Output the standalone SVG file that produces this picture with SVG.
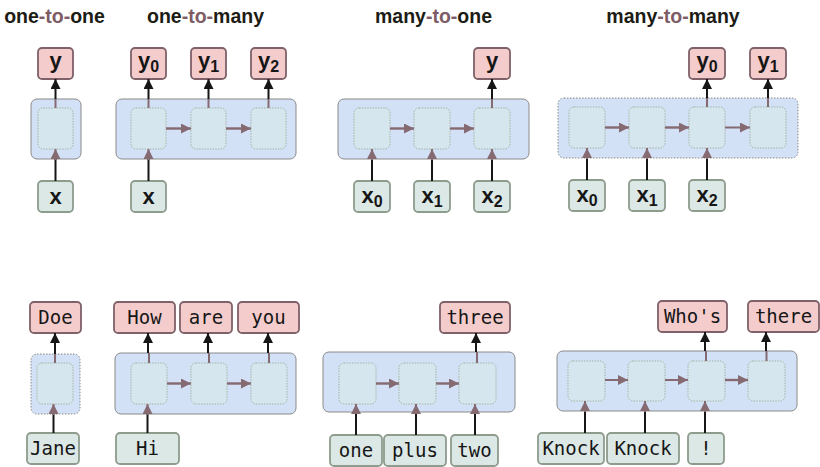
<svg xmlns="http://www.w3.org/2000/svg" width="820" height="467" viewBox="0 0 820 467">
<defs>
<style>
.title{font-family:"Liberation Sans",Arial,sans-serif;font-weight:bold;font-size:19.5px;fill:#1c1c14;text-anchor:middle}
.to{fill:#7e5c66}
.out{fill:#f5cccc;stroke:#7f6169;stroke-width:1.8}
.in{fill:#dce8e6;stroke:#8d9c8d;stroke-width:1.8}
.outer{fill:#d3e1f6;stroke:#8a8a8a;stroke-width:1}
.outerd{fill:#d3e1f6;stroke:#8a8a8a;stroke-width:1;stroke-dasharray:1.5 1.5}
.cell{fill:#d6e6ee;stroke:#a3b5a3;stroke-width:1;stroke-dasharray:1.5 1.2}
.sym{font-family:"Liberation Sans",Arial,sans-serif;font-weight:bold;font-size:22px;fill:#161616;text-anchor:middle}
.sub{font-size:16px}
.word{font-family:"DejaVu Sans Mono","Liberation Mono",monospace;font-size:19px;fill:#161616;text-anchor:middle}
.blk{stroke:#161616;stroke-width:2;fill:none}
.mv{stroke:#856a72;stroke-width:2;fill:none}
.mvh{stroke:#856a72;stroke-width:2.4;fill:none}
</style>
<marker id="ab" viewBox="0 0 10 10" refX="10" refY="5" markerWidth="11" markerHeight="10" markerUnits="userSpaceOnUse" orient="auto"><path d="M0,0 L10,5 L0,10 z" fill="#161616"/></marker>
<marker id="am" viewBox="0 0 10 10" refX="10" refY="5" markerWidth="10" markerHeight="10" markerUnits="userSpaceOnUse" orient="auto"><path d="M0,0 L10,5 L0,10 z" fill="#856a72"/></marker>
</defs>
<rect width="820" height="467" fill="#ffffff"/>

<g id="titles">
<text class="title" x="54.5" y="23"><tspan>one</tspan><tspan class="to">-to-</tspan><tspan>one</tspan></text>
<text class="title" x="205.5" y="23"><tspan>one</tspan><tspan class="to">-to-</tspan><tspan>many</tspan></text>
<text class="title" x="433.5" y="23"><tspan>many</tspan><tspan class="to">-to-</tspan><tspan>one</tspan></text>
<text class="title" x="673" y="23"><tspan>many</tspan><tspan class="to">-to-</tspan><tspan>many</tspan></text>
</g>

<!-- containers -->
<g id="rnn-one-to-one">
<rect class="outer" x="31" y="99" width="50" height="60" rx="6"/>
<rect class="cell" x="38" y="108" width="35" height="41" rx="5"/>
</g>
<g id="rnn-one-to-many">
<rect class="outer" x="116" y="99" width="180" height="60" rx="6"/>
<rect class="cell" x="131" y="108" width="35" height="41" rx="5"/>
<rect class="cell" x="191" y="108" width="35" height="41" rx="5"/>
<rect class="cell" x="251" y="108" width="35" height="41" rx="5"/>
</g>
<g id="rnn-many-to-one">
<rect class="outer" x="338" y="99" width="191" height="60" rx="6"/>
<rect class="cell" x="354" y="108" width="36" height="41" rx="5"/>
<rect class="cell" x="414" y="108" width="36" height="41" rx="5"/>
<rect class="cell" x="474" y="108" width="36" height="41" rx="5"/>
</g>
<g id="rnn-many-to-many">
<rect class="outerd" x="558" y="98" width="240" height="60" rx="6"/>
<rect class="cell" x="569" y="107" width="36" height="41" rx="5"/>
<rect class="cell" x="629" y="107" width="36" height="41" rx="5"/>
<rect class="cell" x="689" y="107" width="36" height="41" rx="5"/>
<rect class="cell" x="750" y="107" width="36" height="41" rx="5"/>
</g>
<g id="ex-one-to-one">
<rect class="outerd" x="31" y="354" width="49" height="60" rx="6"/>
<rect class="cell" x="37" y="363" width="36" height="41" rx="5"/>
</g>
<g id="ex-one-to-many">
<rect class="outer" x="115" y="353" width="181" height="61" rx="6"/>
<rect class="cell" x="131" y="363" width="36" height="41" rx="5"/>
<rect class="cell" x="191" y="363" width="36" height="41" rx="5"/>
<rect class="cell" x="251" y="363" width="36" height="41" rx="5"/>
</g>
<g id="ex-many-to-one">
<rect class="outer" x="323" y="352" width="192" height="60" rx="6"/>
<rect class="cell" x="339" y="363" width="37" height="41" rx="5"/>
<rect class="cell" x="399" y="363" width="37" height="41" rx="5"/>
<rect class="cell" x="459" y="363" width="37" height="41" rx="5"/>
</g>
<g id="ex-many-to-many">
<rect class="outer" x="557" y="351" width="240" height="60" rx="6"/>
<rect class="cell" x="568" y="361" width="37" height="40" rx="5"/>
<rect class="cell" x="628" y="361" width="37" height="40" rx="5"/>
<rect class="cell" x="688" y="361" width="37" height="40" rx="5"/>
<rect class="cell" x="748" y="361" width="37" height="40" rx="5"/>
</g>

<!-- top row labels -->
<g id="t-out-y"><rect class="out" x="38" y="48" width="35" height="31" rx="4"/><text class="sym" x="55.5" y="68">y</text></g>
<g id="t-in-x"><rect class="in" x="38" y="181" width="35" height="31" rx="4"/><text class="sym" x="55.5" y="204">x</text></g>
<g id="t2-out-y0"><rect class="out" x="131" y="48" width="35" height="31" rx="4"/><text class="sym" x="148.5" y="68">y<tspan class="sub" dy="4">0</tspan></text></g>
<g id="t2-out-y1"><rect class="out" x="191" y="48" width="35" height="31" rx="4"/><text class="sym" x="208.5" y="68">y<tspan class="sub" dy="4">1</tspan></text></g>
<g id="t2-out-y2"><rect class="out" x="251" y="48" width="35" height="31" rx="4"/><text class="sym" x="268.5" y="68">y<tspan class="sub" dy="4">2</tspan></text></g>
<g id="t2-in-x"><rect class="in" x="131" y="181" width="35" height="31" rx="4"/><text class="sym" x="148.5" y="204">x</text></g>
<g id="t3-out-y"><rect class="out" x="474" y="48" width="36" height="31" rx="4"/><text class="sym" x="492" y="68">y</text></g>
<g id="t3-in-x0"><rect class="in" x="354" y="181" width="36" height="31" rx="4"/><text class="sym" x="372" y="203">x<tspan class="sub" dy="4">0</tspan></text></g>
<g id="t3-in-x1"><rect class="in" x="414" y="181" width="36" height="31" rx="4"/><text class="sym" x="432" y="203">x<tspan class="sub" dy="4">1</tspan></text></g>
<g id="t3-in-x2"><rect class="in" x="474" y="181" width="36" height="31" rx="4"/><text class="sym" x="492" y="203">x<tspan class="sub" dy="4">2</tspan></text></g>
<g id="t4-out-y0"><rect class="out" x="689" y="48" width="36" height="31" rx="4"/><text class="sym" x="707" y="68">y<tspan class="sub" dy="4">0</tspan></text></g>
<g id="t4-out-y1"><rect class="out" x="750" y="48" width="36" height="31" rx="4"/><text class="sym" x="768" y="68">y<tspan class="sub" dy="4">1</tspan></text></g>
<g id="t4-in-x0"><rect class="in" x="569" y="180" width="36" height="31" rx="4"/><text class="sym" x="587" y="202">x<tspan class="sub" dy="4">0</tspan></text></g>
<g id="t4-in-x1"><rect class="in" x="629" y="180" width="36" height="31" rx="4"/><text class="sym" x="647" y="202">x<tspan class="sub" dy="4">1</tspan></text></g>
<g id="t4-in-x2"><rect class="in" x="689" y="180" width="36" height="31" rx="4"/><text class="sym" x="707" y="202">x<tspan class="sub" dy="4">2</tspan></text></g>

<!-- bottom row labels -->
<g id="b1-out-doe"><rect class="out" x="30" y="302" width="51" height="31" rx="4"/><text class="word" x="55.5" y="324">Doe</text></g>
<g id="b1-in-jane"><rect class="in" x="27" y="433" width="52" height="31" rx="4"/><text class="word" x="53" y="455">Jane</text></g>
<g id="b2-out-how"><rect class="out" x="114" y="302" width="61" height="31" rx="4"/><text class="word" x="144.5" y="324">How</text></g>
<g id="b2-out-are"><rect class="out" x="180" y="302" width="52" height="31" rx="4"/><text class="word" x="206" y="324">are</text></g>
<g id="b2-out-you"><rect class="out" x="238" y="302" width="61" height="31" rx="4"/><text class="word" x="268.5" y="324">you</text></g>
<g id="b2-in-hi"><rect class="in" x="116" y="433" width="63" height="31" rx="4"/><text class="word" x="147.5" y="455">Hi</text></g>
<g id="b3-out-three"><rect class="out" x="440" y="302" width="70" height="31" rx="4"/><text class="word" x="475" y="324">three</text></g>
<g id="b3-in-one"><rect class="in" x="330" y="435" width="52" height="31" rx="4"/><text class="word" x="356" y="457">one</text></g>
<g id="b3-in-plus"><rect class="in" x="384" y="435" width="62" height="31" rx="4"/><text class="word" x="415" y="457">plus</text></g>
<g id="b3-in-two"><rect class="in" x="451" y="435" width="47" height="31" rx="4"/><text class="word" x="474.5" y="457">two</text></g>
<g id="b4-out-whos"><rect class="out" x="658" y="301" width="69" height="31" rx="4"/><text class="word" x="692.5" y="323">Who's</text></g>
<g id="b4-out-there"><rect class="out" x="748" y="301" width="71" height="31" rx="4"/><text class="word" x="783.5" y="323">there</text></g>
<g id="b4-in-knock1"><rect class="in" x="538" y="433" width="66" height="31" rx="4"/><text class="word" x="571" y="455">Knock</text></g>
<g id="b4-in-knock2"><rect class="in" x="607" y="433" width="72" height="31" rx="4"/><text class="word" x="643" y="455">Knock</text></g>
<g id="b4-in-bang"><rect class="in" x="688" y="433" width="36" height="31" rx="4"/><text class="word" x="706" y="455">!</text></g>

<g id="connectors">
<!-- top row outputs -->
<path class="mv" d="M55.5,108V99 M148.5,108V99 M208.5,108V99 M268.5,108V99 M492,108V99 M707,107V98 M768,107V98"/>
<path class="blk" marker-end="url(#ab)" d="M55.5,99V79"/>
<path class="blk" marker-end="url(#ab)" d="M148.5,99V79"/>
<path class="blk" marker-end="url(#ab)" d="M208.5,99V79"/>
<path class="blk" marker-end="url(#ab)" d="M268.5,99V79"/>
<path class="blk" marker-end="url(#ab)" d="M492,99V79"/>
<path class="blk" marker-end="url(#ab)" d="M707,98V79"/>
<path class="blk" marker-end="url(#ab)" d="M768,98V79"/>
<!-- top row inputs -->
<path class="blk" d="M55.5,181V159 M148.5,181V159 M372,181V159 M432,181V159 M492,181V159 M587,180V158 M647,180V158 M707,180V158"/>
<path class="mv" marker-end="url(#am)" d="M55.5,160V149"/>
<path class="mv" marker-end="url(#am)" d="M148.5,160V149"/>
<path class="mv" marker-end="url(#am)" d="M372,160V149"/>
<path class="mv" marker-end="url(#am)" d="M432,160V149"/>
<path class="mv" marker-end="url(#am)" d="M492,160V149"/>
<path class="mv" marker-end="url(#am)" d="M587,159V148"/>
<path class="mv" marker-end="url(#am)" d="M647,159V148"/>
<path class="mv" marker-end="url(#am)" d="M707,159V148"/>
<!-- top row recurrence -->
<path class="mvh" marker-end="url(#am)" d="M166,128.5H191"/>
<path class="mvh" marker-end="url(#am)" d="M226,128.5H251"/>
<path class="mvh" marker-end="url(#am)" d="M390,128.5H414"/>
<path class="mvh" marker-end="url(#am)" d="M450,128.5H474"/>
<path class="mvh" marker-end="url(#am)" d="M605,127.5H629"/>
<path class="mvh" marker-end="url(#am)" d="M665,127.5H689"/>
<path class="mv" marker-end="url(#am)" d="M725,127.5H750"/>

<!-- bottom row outputs -->
<path class="mv" d="M55,363V354 M149,363V353 M209,363V353 M269,363V353 M477,363V352 M706,361V351 M766.5,361V351"/>
<path class="blk" marker-end="url(#ab)" d="M55,354V333"/>
<path class="blk" marker-end="url(#ab)" d="M148,353V333"/>
<path class="blk" marker-end="url(#ab)" d="M208,353V333"/>
<path class="blk" marker-end="url(#ab)" d="M268,353V333"/>
<path class="blk" marker-end="url(#ab)" d="M476,352V333"/>
<path class="blk" marker-end="url(#ab)" d="M705,351V332"/>
<path class="blk" marker-end="url(#ab)" d="M766,351V332"/>
<!-- bottom row inputs -->
<path class="blk" d="M53.5,433V414 M147.5,433V414 M356,435V412 M416,435V412 M475,435V412 M585,433V411 M645,433V411 M705,433V411"/>
<path class="mv" marker-end="url(#am)" d="M53.5,415V404"/>
<path class="mv" marker-end="url(#am)" d="M147.5,415V404"/>
<path class="mv" marker-end="url(#am)" d="M356,413V404"/>
<path class="mv" marker-end="url(#am)" d="M416,413V404"/>
<path class="mv" marker-end="url(#am)" d="M475,413V404"/>
<path class="mv" marker-end="url(#am)" d="M585,412V401"/>
<path class="mv" marker-end="url(#am)" d="M645,412V401"/>
<path class="mv" marker-end="url(#am)" d="M705,412V401"/>
<!-- bottom row recurrence -->
<path class="mvh" marker-end="url(#am)" d="M167,383.5H191"/>
<path class="mvh" marker-end="url(#am)" d="M227,383.5H251"/>
<path class="mvh" marker-end="url(#am)" d="M376,383.5H399"/>
<path class="mvh" marker-end="url(#am)" d="M436,383.5H459"/>
<path class="mv" marker-end="url(#am)" d="M605,380H628"/>
<path class="mv" marker-end="url(#am)" d="M665,380H688"/>
<path class="mvh" marker-end="url(#am)" d="M725,380H748"/>
</g>
</svg>
